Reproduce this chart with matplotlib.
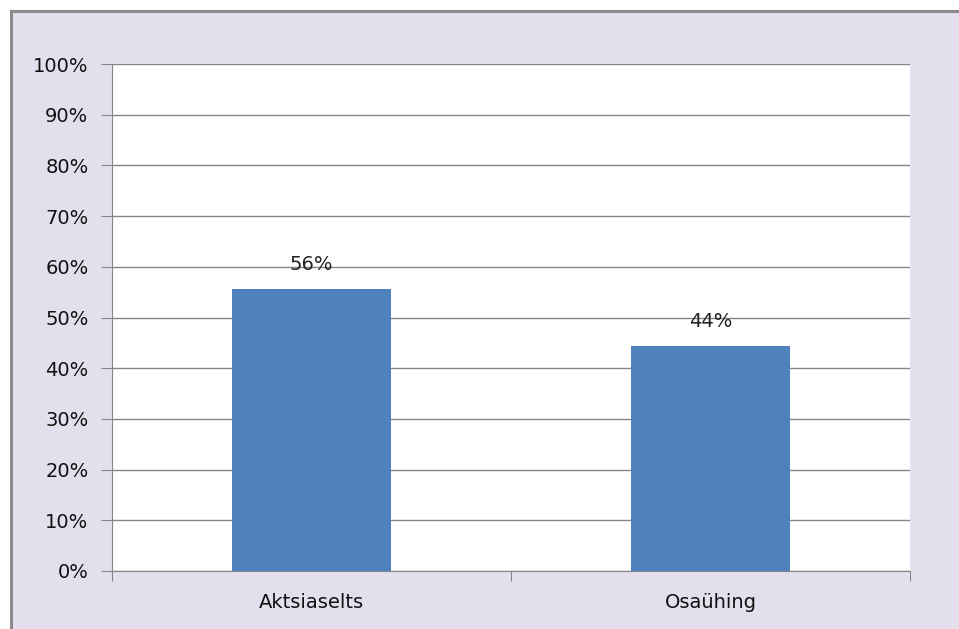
import matplotlib.pyplot as plt
from matplotlib.patches import Rectangle
from matplotlib.lines import Line2D

categories = ['Aktsiaselts', 'Osaühing']
values = [55.6, 44.4]
labels = ['56%', '44%']
yticks = [0, 10, 20, 30, 40, 50, 60, 70, 80, 90, 100]

W, H = 959, 629
fig = plt.figure(figsize=(W / 100, H / 100), dpi=100)
fig.patch.set_facecolor('white')

# lavender chart area with grey frame on top and left
bg = '#e4dfec'
frame = Rectangle((11 / W, 0), 1 - 11 / W, 1 - 11 / H, transform=fig.transFigure,
                  facecolor=bg, edgecolor='none', zorder=-10)
fig.patches.append(frame)
fig.add_artist(Line2D([11 / W, 11 / W], [0, 1 - 11 / H], transform=fig.transFigure,
                      color='#8c8c8c', lw=2.2, zorder=-5))
fig.add_artist(Line2D([11 / W, 1], [1 - 11 / H, 1 - 11 / H], transform=fig.transFigure,
                      color='#8c8c8c', lw=2.2, zorder=-5))

ax = fig.add_axes([112 / W, 1 - 571 / H, (910 - 112) / W, (571 - 64) / H])
ax.set_facecolor('white')

x = range(len(categories))
ax.bar(x, values, width=0.4, color='#4f81bd', zorder=3)
for i, v in enumerate(values):
    ax.text(i, v + 3, labels[i], ha='center', va='bottom', fontsize=14, color='#222222')

ax.set_xlim(-0.5, 1.5)
ax.set_ylim(0, 100)
ax.set_yticks(yticks)
ax.set_yticklabels([f'{t}%' for t in yticks], fontsize=14, color='#111111')
ax.set_xticks([-0.5, 0.5, 1.5], minor=False)
ax.set_xticklabels([])
ax.set_xticks(list(x), minor=True)
ax.set_xticklabels(categories, minor=True, fontsize=14, color='#111111')
ax.tick_params(axis='x', which='minor', length=0, pad=16)
ax.tick_params(axis='x', which='major', length=7, color='#868686', direction='out')
ax.tick_params(axis='y', length=8, color='#868686', pad=9)
ax.yaxis.grid(True, color='#868686', lw=1)
ax.set_axisbelow(True)
for s in ['top', 'right']:
    ax.spines[s].set_visible(False)
for s in ['left', 'bottom']:
    ax.spines[s].set_color('#868686')

fig.savefig('out.png', dpi=100, facecolor=fig.get_facecolor())
